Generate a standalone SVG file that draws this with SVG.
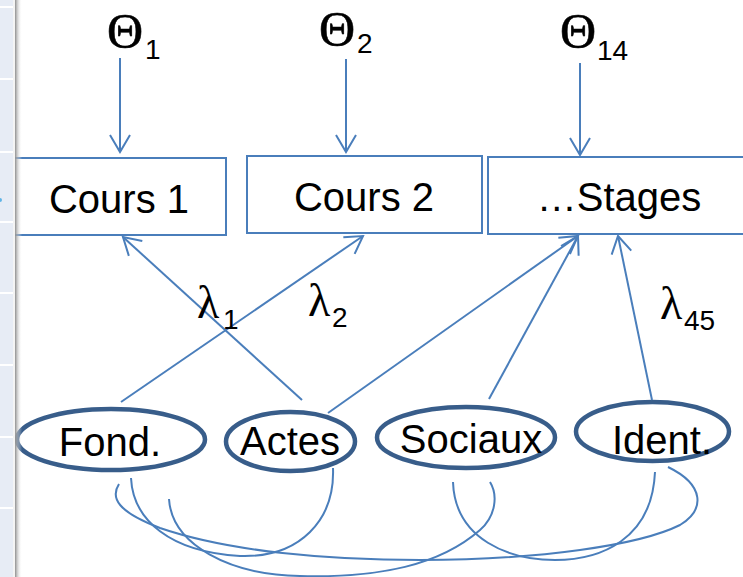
<svg xmlns="http://www.w3.org/2000/svg" width="743" height="577" viewBox="0 0 743 577">
  <defs>
    <style>
      .lbl { font-family: "Liberation Sans", Arial, sans-serif; font-size: 40px; fill: #000; text-anchor: middle; }
      .greek { font-family: "Liberation Serif", "Times New Roman", serif; font-size: 46px; fill: #000; }
      .theta { font-size: 50px; stroke: #000; stroke-width: 0.6; }
      .sub { font-family: "Liberation Sans", Arial, sans-serif; font-size: 28px; fill: #000; }
      .box { fill: #fff; stroke: #4a7ebb; stroke-width: 2; }
      .lat { fill: #fff; stroke: #385d8a; stroke-width: 4.5; }
      .arr { fill: none; stroke: #4a7ebb; stroke-width: 2; marker-end: url(#head); }
      .cov { fill: none; stroke: #4a7ebb; stroke-width: 2; }
    </style>
    <marker id="head" markerUnits="userSpaceOnUse" markerWidth="24" markerHeight="24" viewBox="-20 -12 24 24" refX="0" refY="0" orient="auto">
      <path d="M-17,-10 L0,0 L-17,10" fill="none" stroke="#4a7ebb" stroke-width="2"/>
    </marker>
    <linearGradient id="shade" x1="0" y1="0" x2="1" y2="0">
      <stop offset="0" stop-color="#8f8f8f"/>
      <stop offset="1" stop-color="#ffffff" stop-opacity="0"/>
    </linearGradient>
  </defs>

  <rect width="743" height="577" fill="#fff"/>

  <!-- observed indicators -->
  <g id="cours1">
    <rect class="box" x="8" y="158" width="218" height="77"/>
    <text class="lbl" x="119" y="213">Cours 1</text>
  </g>
  <g id="cours2">
    <rect class="box" x="247" y="156" width="235" height="77"/>
    <text class="lbl" x="364" y="211">Cours 2</text>
  </g>
  <g id="stages">
    <rect class="box" x="488" y="157" width="260" height="77"/>
    <text class="lbl" x="619" y="211">…Stages</text>
  </g>

  <!-- error terms -->
  <g id="theta1">
    <text class="greek theta" x="107" y="48">Θ</text>
    <text class="sub" x="145" y="59">1</text>
  </g>
  <g id="theta2">
    <text class="greek theta" x="319" y="46">Θ</text>
    <text class="sub" x="357" y="53">2</text>
  </g>
  <g id="theta14">
    <text class="greek theta" x="560" y="48">Θ</text>
    <text class="sub" x="597" y="60">14</text>
  </g>

  <!-- latent factors -->
  <g id="fond">
    <ellipse class="lat" cx="111" cy="439.5" rx="94" ry="30.5"/>
    <text class="lbl" x="110" y="456">Fond.</text>
  </g>
  <g id="actes">
    <ellipse class="lat" cx="290.5" cy="441.5" rx="64.5" ry="29.5"/>
    <text class="lbl" x="290" y="455">Actes</text>
  </g>
  <g id="sociaux">
    <ellipse class="lat" cx="466" cy="437.5" rx="89" ry="30.5"/>
    <text class="lbl" x="471" y="453">Sociaux</text>
  </g>
  <g id="ident">
    <ellipse class="lat" cx="652.5" cy="431.5" rx="76.5" ry="29.5"/>
    <text class="lbl" x="662" y="454">Ident.</text>
  </g>

  <!-- connectors: loadings, error paths and covariances -->
  <g id="connectors">
    <line class="arr" x1="120" y1="58" x2="120" y2="152"/>
    <line class="arr" x1="346" y1="59" x2="346" y2="152"/>
    <line class="arr" x1="580" y1="63" x2="580" y2="155"/>

    <line class="arr" x1="121" y1="402" x2="363" y2="236"/>
    <line class="arr" x1="302" y1="400" x2="123" y2="237"/>
    <line class="arr" x1="328" y1="413" x2="578" y2="236"/>
    <line class="arr" x1="489" y1="399" x2="578" y2="236"/>
    <line class="arr" x1="652" y1="400" x2="618" y2="236"/>

    <path class="cov" d="M119,484 C110,498 118,512 160,528 C230,552 330,560 420,560 C540,560 640,545 680,525 C705,510 705,485 668,467"/>
    <path class="cov" d="M131,478 C133,520 170,552 240,556 C300,558 335,520 333,468"/>
    <path class="cov" d="M169,499 C172,545 230,575 300,576 C380,578 440,565 480,530 C496,516 498,495 490,482"/>
    <path class="cov" d="M453,482 C455,540 510,560 555,560 C600,560 652,540 655,472"/>
  </g>

  <!-- loading labels -->
  <g id="lambda1">
    <text class="greek" x="197" y="318">λ</text>
    <text class="sub" x="223" y="329">1</text>
  </g>
  <g id="lambda2">
    <text class="greek" x="308" y="316">λ</text>
    <text class="sub" x="332" y="327">2</text>
  </g>
  <g id="lambda45">
    <text class="greek" x="660" y="319">λ</text>
    <text class="sub" x="684" y="330">45</text>
  </g>

  <!-- side panel strip -->
  <g id="sidebar">
    <rect x="0" y="0" width="13" height="577" fill="#e7ecf5"/>
    <g fill="#ffffff">
      <rect x="0" y="6" width="13" height="2"/>
      <rect x="0" y="78" width="13" height="2"/>
      <rect x="0" y="151" width="13" height="2"/>
      <rect x="0" y="221" width="13" height="2"/>
      <rect x="0" y="292" width="13" height="2"/>
      <rect x="0" y="364" width="13" height="2"/>
      <rect x="0" y="436" width="13" height="2"/>
      <rect x="0" y="507" width="13" height="2"/>
    </g>
    <rect x="13" y="0" width="2" height="577" fill="#f4f4f4"/>
    <rect x="15" y="0" width="7" height="577" fill="url(#shade)"/>
    <circle cx="0" cy="200" r="2" fill="#5fb4e6"/>
  </g>
</svg>
